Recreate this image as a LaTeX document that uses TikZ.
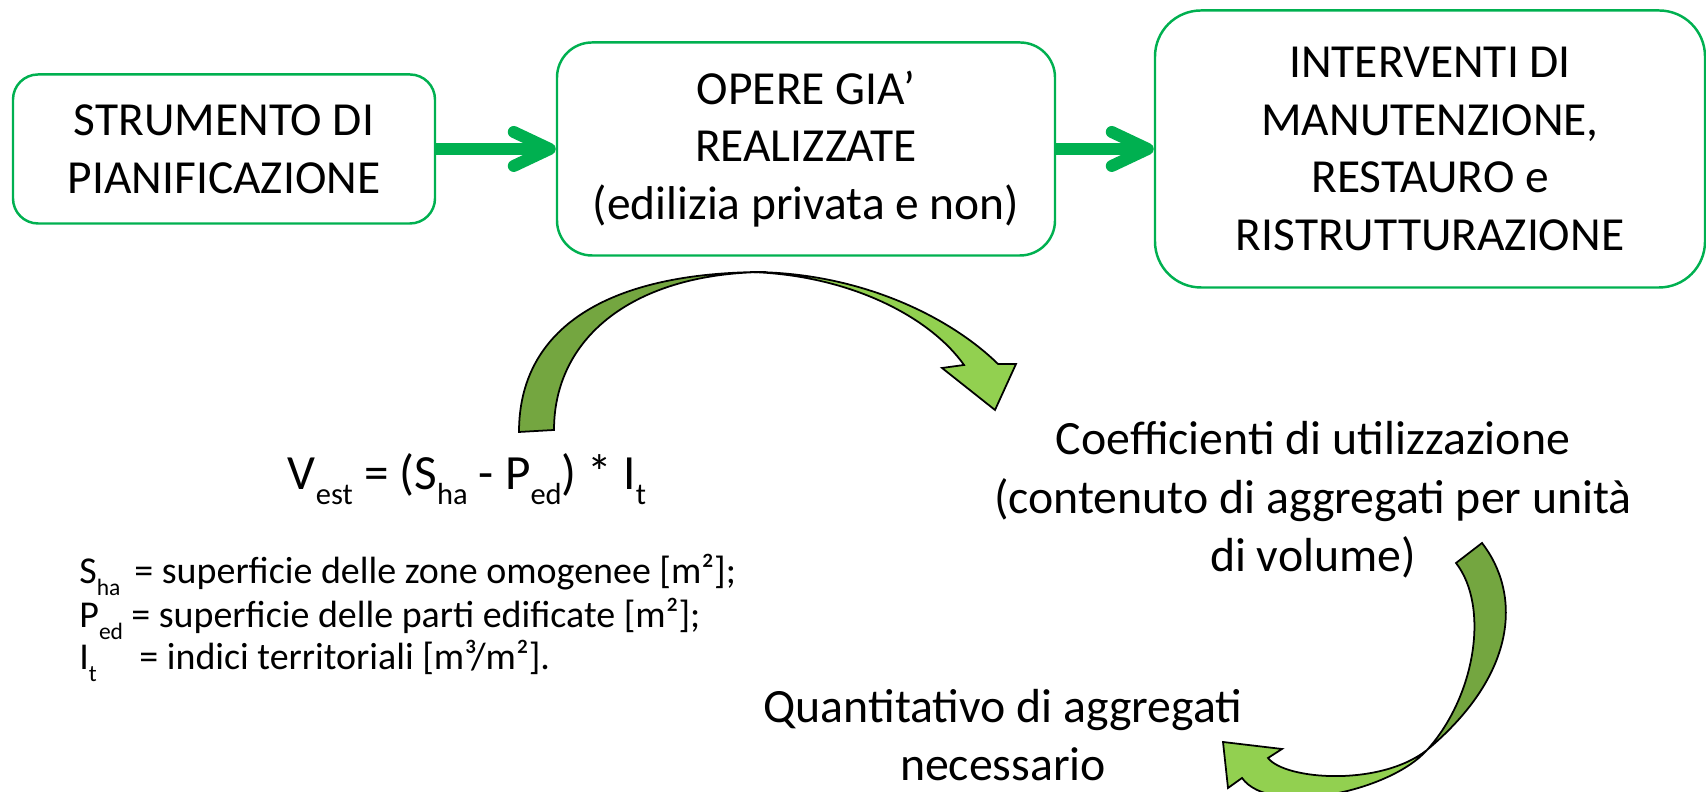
\documentclass[tikz,border=0pt]{standalone}
\usepackage{fontspec}
\setmainfont{Carlito}
\usetikzlibrary{arrows.meta}

\definecolor{boxgreen}{RGB}{0,176,80}
\definecolor{leafdark}{RGB}{116,166,64}
\definecolor{leaflight}{RGB}{146,208,80}
\newcommand{\sbs}[1]{\raisebox{-0.3em}{\scalebox{0.62}{#1}}}

\tikzset{
	stagebox/.style={draw=boxgreen, line width=0.7pt, align=center, font=\fontsize{13.5}{16.4}\selectfont},
	flowarrow/.style={draw=boxgreen, line width=0.12cm, -{Straight Barb[length=0.36cm, width=0.34cm, round]}},
	leafdarkpart/.style={fill=leafdark, draw=black, line width=0.5pt},
	leaflightpart/.style={fill=leaflight, draw=black, line width=0.5pt},
	plaintext/.style={align=center, font=\fontsize{13.6}{16.6}\selectfont},
	legendline/.style={anchor=base west, font=\fontsize{10.8}{12.8}\selectfont}
}

\begin{document}
\begin{tikzpicture}
		\useasboundingbox (0,0) rectangle (17.06,7.92);

		% Stages
		\node[stagebox, rounded corners=0.25cm, minimum width=4.22cm, minimum height=1.49cm] (plan) at (2.24,6.43) {STRUMENTO DI\\PIANIFICAZIONE};
		\node[stagebox, rounded corners=0.35cm, minimum width=4.98cm, minimum height=2.13cm] (built) at (8.06,6.43) {OPERE GIA'\\REALIZZATE\\(edilizia privata e non)};
		\node[stagebox, rounded corners=0.46cm, minimum width=5.50cm, minimum height=2.77cm] (works) at (14.30,6.43) {INTERVENTI DI\\MANUTENZIONE,\\RESTAURO e\\RISTRUTTURAZIONE};

		\draw[flowarrow] (plan) -- (built);
		\draw[flowarrow] (built) -- (works);

		% Formula and legend
		\node[anchor=base, font=\fontsize{14}{17}\selectfont] (vest) at (4.67,3.02) {V\sbs{est} = (S\sbs{ha} - P\sbs{ed}) * I\sbs{t}};
		\node[legendline] (leg1) at (0.67,2.08) {\makebox[0.55cm][l]{S\sbs{ha}}= superficie delle zone omogenee [m²];};
		\node[legendline] (leg2) at (0.67,1.64) {\makebox[0.52cm][l]{P\sbs{ed}}= superficie delle parti edificate [m²];};
		\node[legendline] (leg3) at (0.67,1.22) {\makebox[0.60cm][l]{I\sbs{t}}= indici territoriali [m³/m²].};

		% Results
		\node[plaintext] (coeff) at (13.13,2.92) {Coefficienti di utilizzazione\\(contenuto di aggregati per unità\\di volume)};
		\node[plaintext] (qty) at (10.03,0.57) {Quantitativo di aggregati\\necessario};

		% Curved arrow formula -> coefficients
		\filldraw[leafdarkpart] (5.19,3.60) .. controls (5.19,4.63) and (6.06,5.20) .. (7.66,5.20)
			.. controls (6.34,5.19) and (5.54,4.55) .. (5.54,3.62) -- cycle;
		\filldraw[leaflightpart] (7.50,5.20) .. controls (8.60,5.20) and (9.50,4.75) .. (9.98,4.28)
			-- (10.16,4.28) -- (9.95,3.82) -- (9.42,4.24) -- (9.64,4.27)
			.. controls (9.30,4.75) and (8.50,5.17) .. cycle;

		% Curved arrow coefficients -> quantity
		\filldraw[leafdarkpart] (14.56,2.29) -- (14.82,2.49) .. controls (15.20,2.00) and (15.20,1.20) .. (14.27,0.42)
			.. controls (14.75,0.95) and (14.90,1.85) .. cycle;
		\filldraw[leaflightpart] (14.27,0.42) .. controls (13.90,0.00) and (12.70,-0.25) .. (12.42,0.14)
			-- (12.28,0.04) -- (12.23,0.50) -- (12.82,0.43) -- (12.68,0.34)
			.. controls (12.85,0.12) and (13.80,0.05) .. cycle;
\end{tikzpicture}
\end{document}
